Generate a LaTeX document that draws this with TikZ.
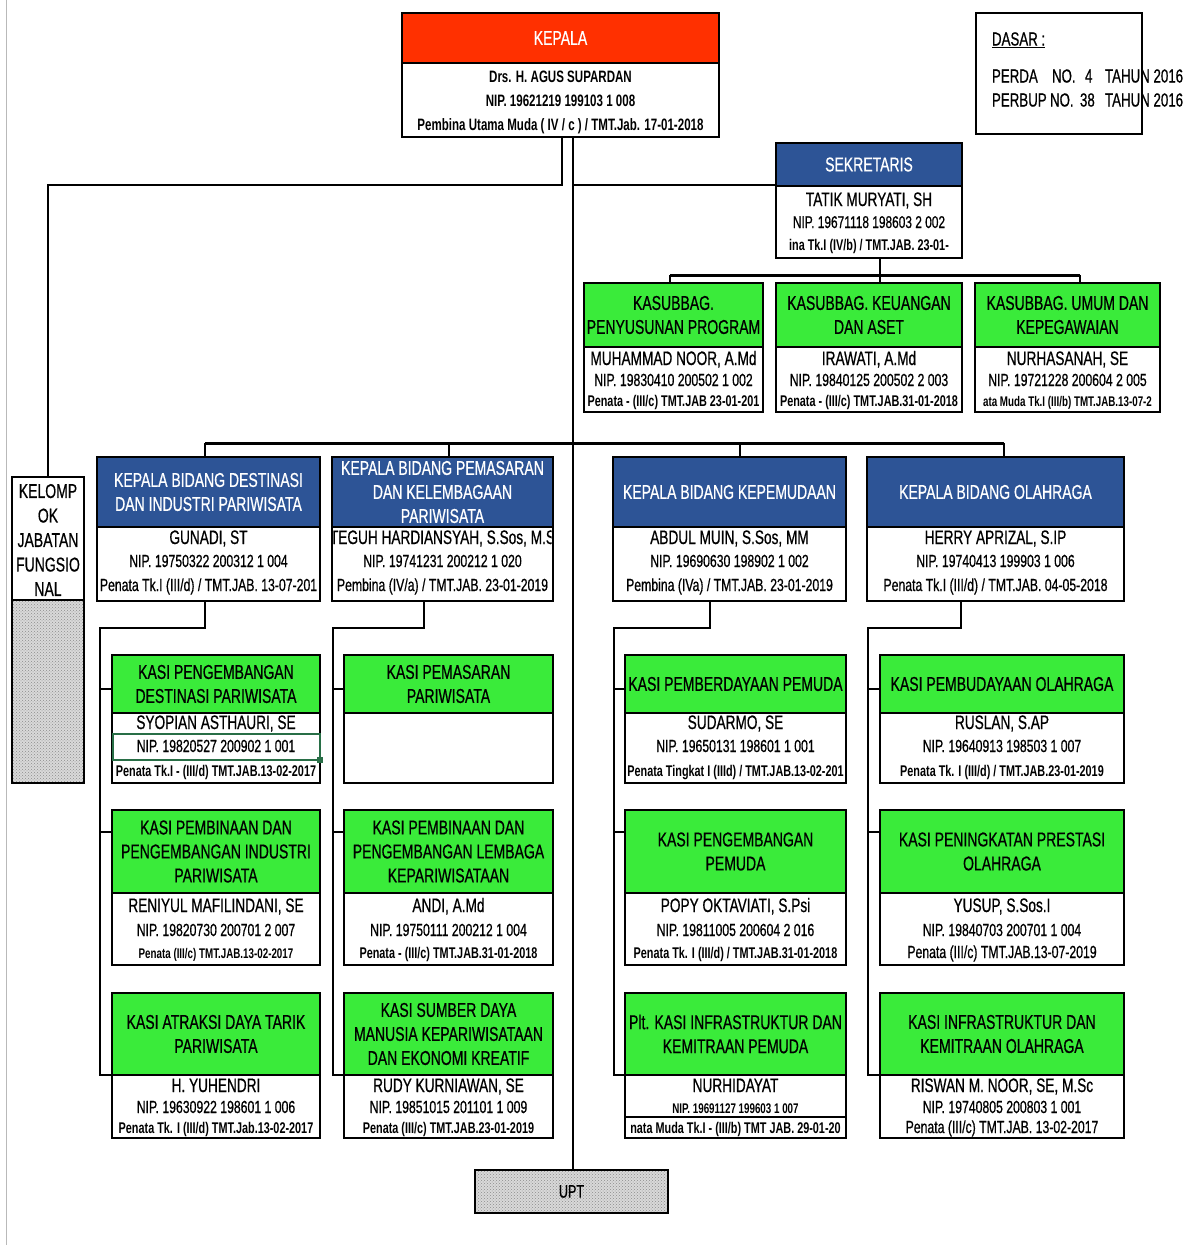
\documentclass[tikz,border=0pt]{standalone}
\usepackage{fontspec}
\setmainfont{Liberation Sans}[FakeStretch=0.7,UprightFeatures={FakeBold=0.6}]
\usetikzlibrary{calc,patterns}
\definecolor{hred}{RGB}{255,48,0}
\definecolor{hblue}{RGB}{45,84,150}
\definecolor{hgreen}{RGB}{58,235,58}
\definecolor{cellg}{RGB}{40,110,70}
\newcommand\fh{\fontsize{20}{24}\selectfont}
\newcommand\fnm{\fontsize{19.5}{24}\selectfont}
\newcommand\fnp{\fontsize{17.5}{22}\selectfont}
\newcommand\fpk{\fontsize{17.5}{22}\selectfont}
\newcommand\fsb{\fontsize{15.5}{18}\selectfont\bfseries}
\newcommand\fss{\fontsize{14}{17}\selectfont\bfseries}
\newcommand\fkb{\fontsize{16.5}{20}\selectfont\bfseries}
\tikzset{
  fr/.style={draw=black,line width=2.4pt,outer sep=0pt,inner sep=0pt},
  hd/.style={draw=black,line width=1.6pt,outer sep=0pt,inner sep=0pt,align=center,font=\fh},
  hr/.style={hd,fill=hred,text=white},
  hb/.style={hd,fill=hblue,text=white},
  hg/.style={hd,fill=hgreen,text=black},
  tx/.style={inner sep=0pt,outer sep=0pt,anchor=center},
  bt/.style={inner sep=0pt,outer sep=0pt,anchor=base},
  ln/.style={draw=black,line width=1.3pt},
  bus/.style={draw=black,line width=3pt},
  hatch/.style={pattern=crosshatch dots,pattern color=gray!90},
}
\newcommand\orgunit[8]{%
  \node[#7,minimum width=#4pt,minimum height=#6pt,anchor=north west] (#1h) at (#2,#3) {#8};
  \node[fr,minimum width=#4pt,minimum height=#5pt,anchor=north west] (#1) at (#2,#3) {};}
\newcommand\orgbody[7]{%
  \begin{scope}
    \clip ($(#1.north west)+(1.3,1.3)$) rectangle ($(#1.south east)+(-1.3,-1.3)$);
    \node[bt,font=\fnm] (#1a) at ($(#1h.south)+(0,#2)$) {#5};
    \node[bt,font=\fnp] (#1b) at ($(#1h.south)+(0,#3)$) {#6};
    \node[bt,font=\fpk] (#1c) at ($(#1h.south)+(0,#4)$) {#7};
  \end{scope}}
\begin{document}
\begin{tikzpicture}[x=1pt,y=-1pt]
\useasboundingbox (0,0) rectangle (1196,1245);
\fill[white] (0,0) rectangle (1196,1245);
\draw[gray!55,line width=1pt] (6,0) -- (6,1245);

% ---------- KEPALA ----------
\orgunit{kep}{402}{13}{317}{124}{50}{hr}{KEPALA}
\orgbody{kep}{19}{43}{67}{\fkb Drs. H. AGUS SUPARDAN}{\fkb NIP. 19621219 199103 1 008}{\fkb Pembina Utama Muda ( IV / c ) / TMT.Jab. 17-01-2018}

% ---------- DASAR ----------
\node[tx,anchor=west,font=\fontsize{19}{22}\selectfont] (dsa) at (992,40) {\underline{DASAR :}};
\node[tx,anchor=west,font=\fontsize{19}{22}\selectfont] (dsb) at (992,76) {\makebox[60pt][l]{PERDA}\makebox[33pt][l]{NO.}\makebox[20pt][l]{4}TAHUN 2016};
\node[tx,anchor=west,font=\fontsize{19}{22}\selectfont] (dsc) at (992,100) {\makebox[58pt][l]{PERBUP}\makebox[30pt][l]{NO.}\makebox[25pt][l]{38}TAHUN 2016};
\node[fr,minimum width=166pt,minimum height=121pt,anchor=north west] (dasar) at (976,13) {};

% ---------- SEKRETARIS ----------
\orgunit{sek}{776}{143}{186}{115}{43}{hb}{SEKRETARIS}
\orgbody{sek}{20}{42}{64}{TATIK MURYATI, SH}{\fontsize{17}{19}\selectfont NIP. 19671118 198603 2 002}{\fsb ina Tk.I (IV/b) / TMT.JAB. 23-01-}

% ---------- KASUBBAG ----------
\orgunit{ua}{584}{283}{179}{129}{64}{hg}{KASUBBAG.\\PENYUSUNAN PROGRAM}
\orgbody{ua}{18}{39}{59}{MUHAMMAD NOOR, A.Md}{NIP. 19830410 200502 1 002}{\fsb Penata - (III/c) TMT.JAB 23-01-201}
\orgunit{ub}{776}{283}{186}{129}{64}{hg}{KASUBBAG. KEUANGAN\\DAN ASET}
\orgbody{ub}{18}{39}{59}{IRAWATI, A.Md}{NIP. 19840125 200502 2 003}{\fsb Penata - (III/c) TMT.JAB.31-01-2018}
\orgunit{uc}{975}{283}{185}{129}{64}{hg}{KASUBBAG. UMUM DAN\\KEPEGAWAIAN}
\orgbody{uc}{18}{39}{59}{NURHASANAH, SE}{NIP. 19721228 200604 2 005}{\fss ata Muda Tk.I (III/b) TMT.JAB.13-07-2}

% ---------- KEPALA BIDANG ----------
\orgunit{ba}{97}{457}{223}{144}{70}{hb}{KEPALA BIDANG DESTINASI\\DAN INDUSTRI PARIWISATA}
\orgbody{ba}{17}{40}{64}{GUNADI, ST}{NIP. 19750322 200312 1 004}{Penata Tk.I (III/d) / TMT.JAB. 13-07-201}
\orgunit{bb}{332}{457}{221}{144}{70}{hb}{KEPALA BIDANG PEMASARAN\\DAN KELEMBAGAAN\\PARIWISATA}
\orgbody{bb}{17}{40}{64}{TEGUH HARDIANSYAH, S.Sos, M.S}{NIP. 19741231 200212 1 020}{Pembina (IV/a) / TMT.JAB. 23-01-2019}
\orgunit{bc}{613}{457}{233}{144}{70}{hb}{KEPALA BIDANG KEPEMUDAAN}
\orgbody{bc}{17}{40}{64}{ABDUL MUIN, S.Sos, MM}{NIP. 19690630 198902 1 002}{Pembina (IVa) / TMT.JAB. 23-01-2019}
\orgunit{bd}{867}{457}{257}{144}{70}{hb}{KEPALA BIDANG OLAHRAGA}
\orgbody{bd}{17}{40}{64}{HERRY APRIZAL, S.IP}{NIP. 19740413 199903 1 006}{Penata Tk.I (III/d) / TMT.JAB. 04-05-2018}

% ---------- KELOMPOK JABATAN FUNGSIONAL ----------
\node[fill=gray!30,minimum width=72pt,minimum height=183pt,anchor=north west,inner sep=0pt,outer sep=0pt] (kjfp) at (12,600) {};
\fill[hatch] (kjfp.north west) rectangle (kjfp.south east);
\node[fr,minimum width=72pt,minimum height=306pt,anchor=north west] (kjf) at (12,477) {};
\draw[line width=1.6pt] (kjfp.north west) -- (kjfp.north east);
\node[tx,font=\fontsize{20}{24.5}\selectfont,align=center] (kjft) at (48,540) {KELOMP\\OK\\JABATAN\\FUNGSIO\\NAL};

% ---------- KASI column 1 ----------
\orgunit{s11}{112}{655}{208}{128}{58}{hg}{KASI PENGEMBANGAN\\DESTINASI PARIWISATA}
\orgbody{s11}{16}{39}{63}{SYOPIAN ASTHAURI, SE}{NIP. 19820527 200902 1 001}{\fsb Penata Tk.I - (III/d) TMT.JAB.13-02-2017}
\draw[cellg,line width=1.2pt] (113,734) rectangle (320,760);
\fill[cellg] (317,757) rectangle (323,763);
\orgunit{s12}{112}{810}{208}{155}{83}{hg}{KASI PEMBINAAN DAN\\PENGEMBANGAN INDUSTRI\\PARIWISATA}
\orgbody{s12}{19}{43}{65}{RENIYUL MAFILINDANI, SE}{NIP. 19820730 200701 2 007}{\fss Penata (III/c) TMT.JAB.13-02-2017}
\orgunit{s13}{112}{993}{208}{145}{82}{hg}{KASI ATRAKSI DAYA TARIK\\PARIWISATA}
\orgbody{s13}{17}{38}{58}{H. YUHENDRI}{NIP. 19630922 198601 1 006}{\fsb Penata Tk. I (III/d) TMT.Jab.13-02-2017}

% ---------- KASI column 2 ----------
\orgunit{s21}{344}{655}{209}{128}{58}{hg}{KASI PEMASARAN\\PARIWISATA}
\orgunit{s22}{344}{810}{209}{155}{83}{hg}{KASI PEMBINAAN DAN\\PENGEMBANGAN LEMBAGA\\KEPARIWISATAAN}
\orgbody{s22}{19}{43}{65}{ANDI, A.Md}{NIP. 19750111 200212 1 004}{\fsb Penata - (III/c) TMT.JAB.31-01-2018}
\orgunit{s23}{344}{993}{209}{145}{82}{hg}{KASI SUMBER DAYA\\MANUSIA KEPARIWISATAAN\\DAN EKONOMI KREATIF}
\orgbody{s23}{17}{38}{58}{RUDY KURNIAWAN, SE}{NIP. 19851015 201101 1 009}{\fsb Penata (III/c) TMT.JAB.23-01-2019}

% ---------- KASI column 3 ----------
\orgunit{s31}{625}{655}{221}{128}{58}{hg}{KASI PEMBERDAYAAN PEMUDA}
\orgbody{s31}{16}{39}{63}{SUDARMO, SE}{NIP. 19650131 198601 1 001}{\fsb Penata Tingkat I (IIId) / TMT.JAB.13-02-201}
\orgunit{s32}{625}{810}{221}{155}{83}{hg}{KASI PENGEMBANGAN\\PEMUDA}
\orgbody{s32}{19}{43}{65}{POPY OKTAVIATI, S.Psi}{NIP. 19811005 200604 2 016}{\fsb Penata Tk. I (III/d) / TMT.JAB.31-01-2018}
\orgunit{s33}{625}{993}{221}{145}{82}{hg}{Plt. KASI INFRASTRUKTUR DAN\\KEMITRAAN PEMUDA}
\orgbody{s33}{17}{38}{58}{NURHIDAYAT}{\fss NIP. 19691127 199603 1 007}{\fsb nata Muda Tk.I - (III/b) TMT JAB. 29-01-20}
\coordinate (l33) at (0,1117);
\draw[line width=1.6pt] (s33.west |- l33) -- (s33.east |- l33);

% ---------- KASI column 4 ----------
\orgunit{s41}{880}{655}{244}{128}{58}{hg}{KASI PEMBUDAYAAN OLAHRAGA}
\orgbody{s41}{16}{39}{63}{RUSLAN, S.AP}{NIP. 19640913 198503 1 007}{\fsb Penata Tk. I (III/d) / TMT.JAB.23-01-2019}
\orgunit{s42}{880}{810}{244}{155}{83}{hg}{KASI PENINGKATAN PRESTASI\\OLAHRAGA}
\orgbody{s42}{19}{43}{65}{YUSUP, S.Sos.I}{NIP. 19840703 200701 1 004}{Penata (III/c) TMT.JAB.13-07-2019}
\orgunit{s43}{880}{993}{244}{145}{82}{hg}{KASI INFRASTRUKTUR DAN\\KEMITRAAN OLAHRAGA}
\orgbody{s43}{17}{38}{58}{RISWAN M. NOOR, SE, M.Sc}{NIP. 19740805 200803 1 001}{Penata (III/c) TMT.JAB. 13-02-2017}

% ---------- UPT ----------
\fill[gray!30] (475,1170) rectangle (668,1213);
\fill[hatch] (475,1170) rectangle (668,1213);
\node[fr,minimum width=193pt,minimum height=43pt,anchor=north west] (upt) at (475,1170) {};
\node[tx,font=\fontsize{18}{20}\selectfont] (uptt) at (upt.center) {UPT};

% ---------- connectors ----------
\coordinate (ka) at (562,185);
\coordinate (kc) at (573,185);
\draw[ln] (kep.south -| ka) -- (ka) -- (ka -| kjf.north) -- (kjf.north);
\draw[ln] (kep.south -| kc) -- (upt.north -| kc);
\draw[ln] (kc) -- (kc -| sek.west);

\coordinate (sb) at (880,275);
\coordinate (sa) at (670,275);
\coordinate (sc) at (1080,275);
\draw[ln] (sek.south -| sb) -- (sb);
\draw[bus] (sa) -- (sc);
\draw[ln] (sa) -- (sa |- ua.north);
\draw[ln] (sb) -- (sb |- ub.north);
\draw[ln] (sc) -- (sc |- uc.north);

\coordinate (pa) at (205,443);
\coordinate (pb) at (449,443);
\coordinate (pc) at (740,443);
\coordinate (pd) at (1004,443);
\draw[bus] (pa) -- (pd);
\draw[ln] (pa) -- (pa |- ba.north);
\draw[ln] (pb) -- (pb |- bb.north);
\draw[ln] (pc) -- (pc |- bc.north);
\draw[ln] (pd) -- (pd |- bd.north);

\coordinate (qa) at (205,628);  \coordinate (ra) at (100,628);
\coordinate (qb) at (424,628);  \coordinate (rb) at (333,628);
\coordinate (qc) at (710,628);  \coordinate (rc) at (614,628);
\coordinate (qd) at (961,628);  \coordinate (rd) at (868,628);
\coordinate (y1) at (0,689);
\coordinate (y2) at (0,832);
\draw[ln] (ba.south -| qa) -- (qa) -- (ra) -- (ra |- s13h.south west) -- (s13h.south west);
\draw[ln] (bb.south -| qb) -- (qb) -- (rb) -- (rb |- s23h.south west) -- (s23h.south west);
\draw[ln] (bc.south -| qc) -- (qc) -- (rc) -- (rc |- s33h.south west) -- (s33h.south west);
\draw[ln] (bd.south -| qd) -- (qd) -- (rd) -- (rd |- s43h.south west) -- (s43h.south west);
\draw[ln] (ra |- y1) -- (s11.west |- y1);
\draw[ln] (ra |- y2) -- (s12.west |- y2);
\draw[ln] (rb |- y1) -- (s21.west |- y1);
\draw[ln] (rb |- y2) -- (s22.west |- y2);
\draw[ln] (rc |- y1) -- (s31.west |- y1);
\draw[ln] (rc |- y2) -- (s32.west |- y2);
\draw[ln] (rd |- y1) -- (s41.west |- y1);
\draw[ln] (rd |- y2) -- (s42.west |- y2);
\end{tikzpicture}
\end{document}
